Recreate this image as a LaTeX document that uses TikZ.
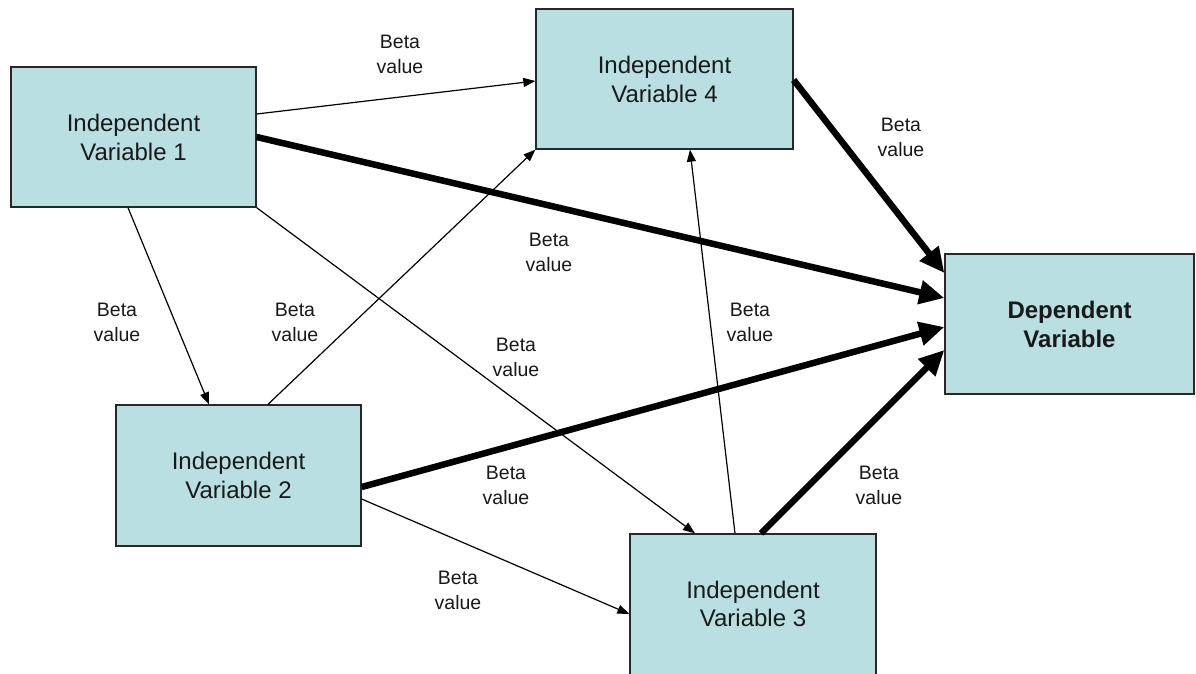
\documentclass[tikz,border=0pt]{standalone}
\usepackage{fontspec}
\setmainfont{Liberation Sans}
\usetikzlibrary{arrows.meta}
\definecolor{boxfill}{RGB}{185,223,226}
\definecolor{boxline}{RGB}{40,40,40}
\definecolor{txt}{RGB}{25,25,25}
\begin{document}
\begin{tikzpicture}[x=1pt,y=-1pt,
  box/.style={draw=boxline, fill=boxfill, line width=1.3pt, inner sep=0pt, align=center, text=txt,
    font=\fontsize{24}{29}\selectfont},
  lbl/.style={align=center, inner sep=0pt, text=txt, font=\fontsize{19.5}{25}\selectfont},
  thin/.style={draw=black, line width=1.2pt, -{Triangle[length=12pt,width=9pt]}},
  thick/.style={draw=black, line width=6.5pt, -{Triangle[length=25pt,width=23pt]}}]
\useasboundingbox (0,0) rectangle (1196,673);
\fill[white] (0,0) rectangle (1196,673);
% boxes
\node[box, minimum width=245pt, minimum height=140pt] (iv1) at (133.5,137) {Independent\\Variable 1};
\node[box, minimum width=257pt, minimum height=140pt] (iv4) at (664.5,79) {Independent\\Variable 4};
\node[box, minimum width=245pt, minimum height=141pt] (iv2) at (238.5,475.5) {Independent\\Variable 2};
\node[box, minimum width=246pt, minimum height=146pt] (iv3) at (753,607) {\raisebox{3pt}{\begin{tabular}{@{}c@{}}Independent\\[-1pt]Variable 3\end{tabular}}};
\node[box, minimum width=249pt, minimum height=140pt, font=\fontsize{24}{29}\selectfont\bfseries] (dv) at (1069.5,324) {Dependent\\Variable};
% connectors
\draw[thin] ([yshift=23pt]iv1.east) -- ([yshift=-2pt]iv4.west);
\draw[thick] (iv1.east) -- ([yshift=26pt]dv.west);
\draw[thin] ([xshift=-5.5pt]iv1.south) -- ([xshift=-29.5pt]iv2.north);
\draw[thin] (iv1.south east) -- ([xshift=-58pt]iv3.north);
\draw[thin] ([xshift=29.5pt]iv2.north) -- (iv4.south west);
\draw[thick] ([yshift=-11.5pt]iv2.east) -- ([yshift=-3pt]dv.west);
\draw[thin] ([yshift=-23.5pt]iv2.east) -- ([yshift=-7pt]iv3.west);
\draw[thin] ([xshift=-18pt]iv3.north) -- ([xshift=25.5pt]iv4.south);
\draw[thick] ([xshift=8pt]iv3.north) -- ([yshift=-26pt]dv.west);
\draw[thick] ([yshift=-1pt]iv4.east) -- ([yshift=51pt]dv.west);
% labels
\node[lbl] (l1) at (400,54) {Beta\\value};
\node[lbl] (l2) at (901,137) {Beta\\value};
\node[lbl] (l3) at (549,252) {Beta\\value};
\node[lbl] (l4) at (117,322) {Beta\\value};
\node[lbl] (l5) at (295,322) {Beta\\value};
\node[lbl] (l6) at (516,357) {Beta\\value};
\node[lbl] (l7) at (750,322) {Beta\\value};
\node[lbl] (l8) at (506,485) {Beta\\value};
\node[lbl] (l9) at (879,485) {Beta\\value};
\node[lbl] (l10) at (458,590) {Beta\\value};
\end{tikzpicture}
\end{document}
